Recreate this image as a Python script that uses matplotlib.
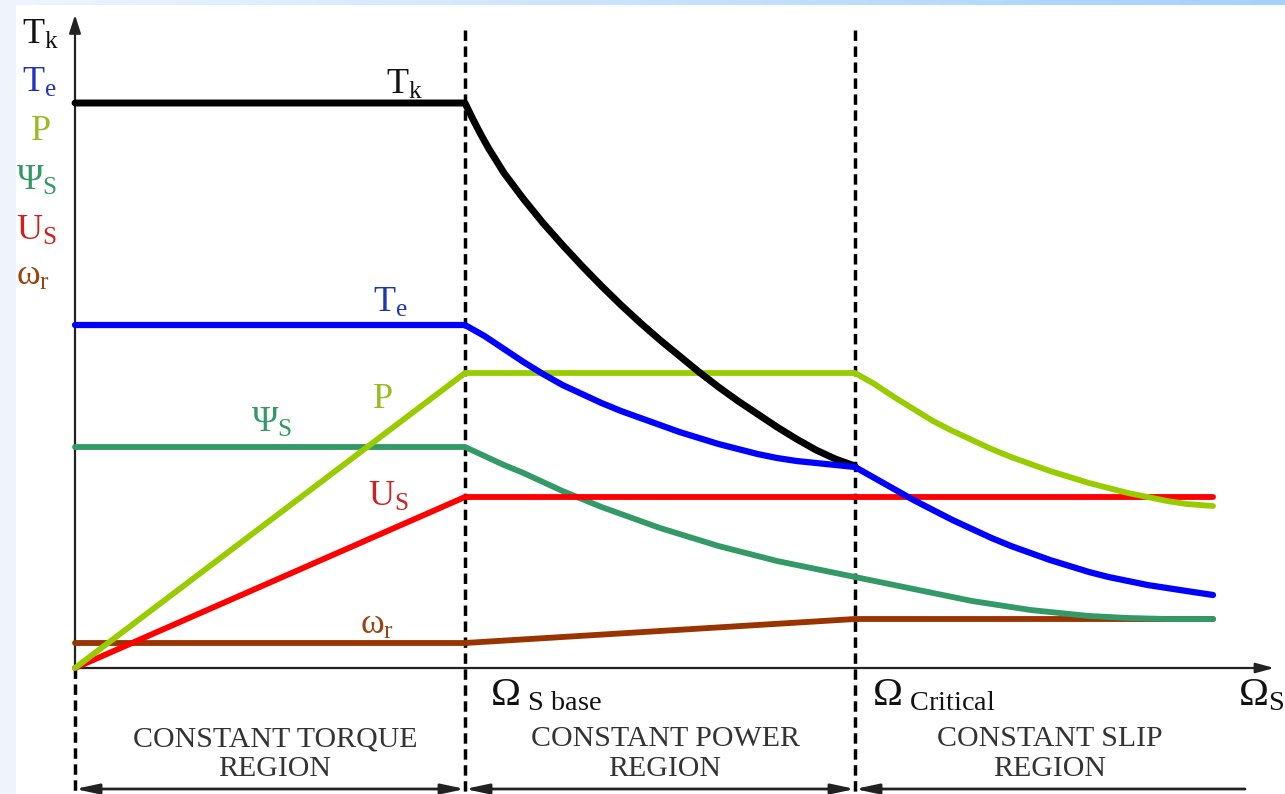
import numpy as np
import matplotlib.pyplot as plt

plt.rcParams['mathtext.fontset'] = 'custom'
plt.rcParams['mathtext.rm'] = 'Liberation Serif'
plt.rcParams['mathtext.it'] = 'Liberation Serif'
plt.rcParams['mathtext.bf'] = 'Liberation Serif:bold'
plt.rcParams['font.family'] = ['Liberation Serif', 'DejaVu Serif']

# speed axis: 0 = standstill, 1 = base speed, 2 = critical speed
# breakdown torque Tk
tk_x = [0.0, 1.0, 1.02, 1.04, 1.06, 1.10, 1.15, 1.20, 1.25, 1.30, 1.35, 1.40, 1.45,
        1.50, 1.55, 1.60, 1.65, 1.70, 1.75, 1.80, 1.85, 1.90, 1.95, 2.0]
tk_y = [5.65, 5.65, 5.49, 5.34, 5.20, 4.95, 4.69, 4.45, 4.23, 4.02, 3.82, 3.63, 3.45,
        3.28, 3.12, 2.96, 2.81, 2.67, 2.54, 2.41, 2.29, 2.18, 2.09, 2.02]
# electromagnetic torque Te
te_x = [0.0, 1.0, 1.05, 1.10, 1.15, 1.20, 1.25, 1.30, 1.35, 1.40, 1.45, 1.50, 1.55,
        1.60, 1.65, 1.70, 1.75, 1.80, 1.85, 1.90, 1.95, 2.0,
        2.05, 2.10, 2.15, 2.20, 2.25, 2.30, 2.35, 2.40, 2.45, 2.50, 2.55, 2.60,
        2.65, 2.70, 2.75, 2.80, 2.85, 2.918]
te_y = [3.43, 3.43, 3.32, 3.19, 3.06, 2.94, 2.83, 2.74, 2.65, 2.57, 2.50, 2.43, 2.36,
        2.30, 2.24, 2.19, 2.14, 2.10, 2.07, 2.05, 2.03, 2.01,
        1.90, 1.79, 1.68, 1.58, 1.48, 1.39, 1.30, 1.22, 1.15, 1.08, 1.02, 0.96,
        0.91, 0.87, 0.83, 0.80, 0.77, 0.73]
# power P
p_x = [0.0, 1.0, 2.0, 2.05, 2.10, 2.15, 2.20, 2.25, 2.30, 2.35, 2.40, 2.45, 2.50,
       2.55, 2.60, 2.65, 2.70, 2.75, 2.80, 2.85, 2.918]
p_y = [0.0, 2.95, 2.95, 2.84, 2.71, 2.59, 2.47, 2.37, 2.28, 2.19, 2.11, 2.04, 1.97,
       1.91, 1.85, 1.80, 1.75, 1.71, 1.67, 1.64, 1.62]
# stator flux Psi_s
psi_x = [0.0, 1.0, 1.05, 1.10, 1.15, 1.20, 1.25, 1.30, 1.35, 1.40, 1.45, 1.50, 1.55,
         1.60, 1.65, 1.70, 1.75, 1.80, 1.85, 1.90, 1.95, 2.0,
         2.05, 2.10, 2.15, 2.20, 2.25, 2.30, 2.35, 2.40, 2.45, 2.50, 2.55, 2.60,
         2.65, 2.70, 2.80, 2.918]
psi_y = [2.21, 2.21, 2.12, 2.03, 1.95, 1.86, 1.77, 1.69, 1.61, 1.54, 1.47, 1.40, 1.34,
         1.28, 1.22, 1.17, 1.12, 1.07, 1.03, 0.99, 0.95, 0.91,
         0.87, 0.83, 0.79, 0.75, 0.71, 0.67, 0.64, 0.61, 0.58, 0.56, 0.54, 0.52,
         0.51, 0.50, 0.49, 0.49]
# stator voltage Us
us_x = [0.0, 1.0, 2.918]
us_y = [0.0, 1.71, 1.71]
# rotor (slip) frequency omega_r
wr_x = [0.0, 1.0, 2.0, 2.918]
wr_y = [0.25, 0.25, 0.49, 0.49]

region_names = ['CONSTANT TORQUE\nREGION', 'CONSTANT POWER\nREGION', 'CONSTANT SLIP\nREGION']
region_edges = [0.0, 1.0, 2.0, 2.974]

c_tk, c_te, c_p, c_psi, c_us, c_wr = '#000000', '#0000ff', '#99cc00', '#339966', '#ff0000', '#993300'

W, H = 1285, 794
x0, y0, sx, sy = 75, 668, 390.0, 100.0   # origin pixel and scale


def px(x):
    return (x - x0) / sx


def py(y):
    return (y0 - y) / sy


fig = plt.figure(figsize=(W / 100, H / 100), dpi=100)
fig.patch.set_facecolor('white')

# pale frame strips
bg = fig.add_axes([0, 0, 1, 1])
bg.set_xlim(0, W)
bg.set_ylim(H, 0)
bg.axis('off')
bg.add_patch(plt.Rectangle((0, 0), 16, H, color='#eef4fc', lw=0))
grad = np.linspace(0, 1, 256)[None, :]
top_cmap = plt.matplotlib.colors.LinearSegmentedColormap.from_list('top', ['#eef5fe', '#a4d0ff'])
bg.imshow(grad, cmap=top_cmap, extent=(0, W, 5, 0), aspect='auto')

ax = fig.add_axes([0, 0, 1, 1])
ax.set_xlim(px(0), px(W))
ax.set_ylim(py(H), py(0))
ax.axis('off')

# axes with arrows
ax.annotate('', xy=(0, py(12)), xytext=(0, 0),
            arrowprops=dict(arrowstyle='-|>,head_length=1.1,head_width=0.35', color='#222222', lw=1.6))
ax.annotate('', xy=(px(1277), 0), xytext=(0, 0),
            arrowprops=dict(arrowstyle='-|>,head_length=1.1,head_width=0.3', color='#222222', lw=1.6))

# region boundaries
ax.plot([0, 0], [0, py(H)], color='black', lw=2.5, ls=(0, (3, 1.6)))
for xb in [1.0, 2.0]:
    ax.plot([xb, xb], [py(30), py(H)], color='black', lw=2.5, ls=(0, (3, 1.6)), zorder=1)

# curves
kw = dict(solid_capstyle='round', solid_joinstyle='round')
ax.plot(wr_x, wr_y, color=c_wr, lw=4.2, zorder=3, **kw)
ax.plot(psi_x, psi_y, color=c_psi, lw=4.2, zorder=3, **kw)
ax.plot(us_x, us_y, color=c_us, lw=4.2, zorder=3, **kw)
ax.plot(p_x, p_y, color=c_p, lw=4.2, zorder=4, **kw)
ax.plot(tk_x, tk_y, color=c_tk, lw=5, zorder=4, **kw)
ax.plot(te_x, te_y, color=c_te, lw=4.5, zorder=5, **kw)

# curve labels
curve_labels = [
    (r'$\mathrm{T}_\mathrm{k}$', 386, 94, '#111111'),
    (r'$\mathrm{T}_\mathrm{e}$', 373, 312, '#2233bb'),
    (r'$\mathrm{P}$', 372, 408, '#99bb22'),
    (r'$\Psi_\mathrm{S}$', 251, 432, '#339966'),
    (r'$\mathrm{U}_\mathrm{S}$', 368, 506, '#cc2222'),
    (r'$\omega_\mathrm{r}$', 360, 634, '#994411'),
]
for s, lx, ly, c in curve_labels:
    ax.text(px(lx), py(ly), s, color=c, fontsize=26, ha='left', va='baseline')

# legend down the vertical axis
side_labels = [
    (r'$\mathrm{T}_\mathrm{k}$', 22, 44, '#111111'),
    (r'$\mathrm{T}_\mathrm{e}$', 22, 92, '#2233bb'),
    (r'$\mathrm{P}$', 30, 140, '#99bb22'),
    (r'$\Psi_\mathrm{S}$', 16, 190, '#339966'),
    (r'$\mathrm{U}_\mathrm{S}$', 16, 240, '#cc2222'),
    (r'$\omega_\mathrm{r}$', 16, 285, '#994411'),
]
for s, lx, ly, c in side_labels:
    ax.text(px(lx), py(ly), s, color=c, fontsize=26, ha='left', va='baseline')

# speed markers on the horizontal axis
ax.text(px(490), py(705), r'$\Omega_{\ \mathrm{S\ base}}$', fontsize=29, color='#111111', va='baseline')
ax.text(px(872), py(705), r'$\Omega_{\ \mathrm{Critical}}$', fontsize=29, color='#111111', va='baseline')
ax.text(px(1238), py(705), r'$\Omega_{\mathrm{S}}$', fontsize=29, color='#111111', va='baseline')

# region captions and span arrows
for name, a, b in zip(region_names, region_edges[:-1], region_edges[1:]):
    ax.text((a + b) / 2 + 0.013, py(754), name, fontsize=21.5, color='#333333',
            ha='center', va='center', linespacing=1.15)
for a, b in zip(region_edges[:-1], region_edges[1:]):
    if b > 2.5:
        ax.annotate('', xy=(a, py(789)), xytext=(px(1245), py(789)),
                    arrowprops=dict(arrowstyle='-|>,head_length=1.4,head_width=0.3', color='#222222',
                                    lw=2, shrinkA=0, shrinkB=0))
    else:
        ax.annotate('', xy=(a, py(789)), xytext=(b, py(789)),
                    arrowprops=dict(arrowstyle='<|-|>,head_length=1.4,head_width=0.3', color='#222222',
                                    lw=2, shrinkA=0, shrinkB=0))

fig.savefig('out.png', dpi=100)
